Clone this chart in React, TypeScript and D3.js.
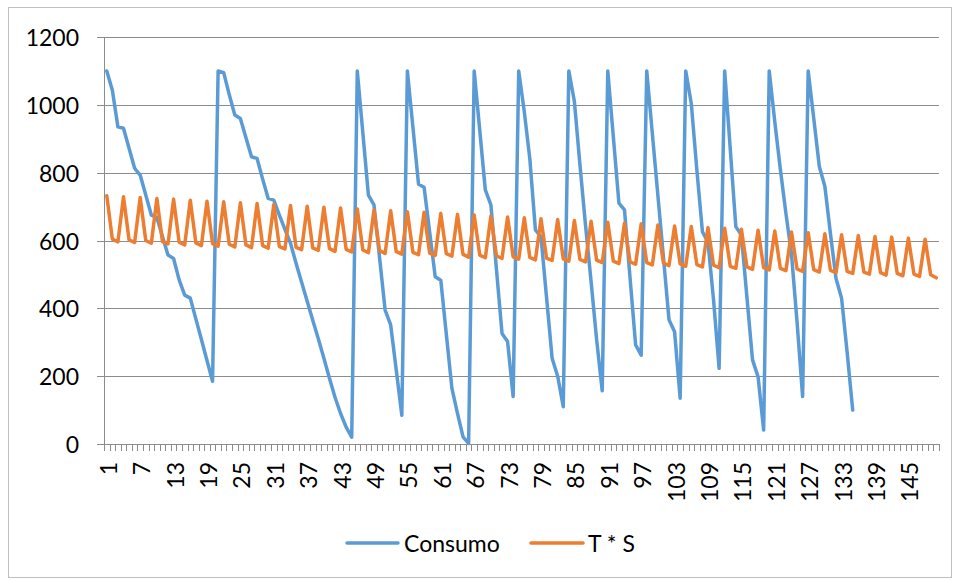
import React from "react";
import * as d3 from "d3";

const categories: number[] = d3.range(1, 151);

const consumo: number[] = [
  1100, 1043, 935, 931, 872, 813, 793, 734, 675, 668, 612, 557, 547, 484, 439, 430, 369, 308, 246, 185,
  1100, 1095, 1030, 970, 960, 903, 847, 842, 781, 724, 719, 675, 633, 592, 533, 477, 421, 365, 310, 253, 194, 138, 90, 50, 20,
  1100, 917, 734, 705, 550, 395, 351, 218, 85,
  1100, 933, 766, 757, 625, 493, 483, 323, 164, 90, 21, 2,
  1100, 925, 749, 705, 515, 326, 302, 140,
  1100, 980, 840, 631, 611, 432, 253, 200, 110,
  1100, 1010, 823, 645, 479, 307, 157,
  1100, 905, 710, 690, 490, 292, 262,
  1100, 916, 733, 550, 366, 331, 135,
  1100, 1004, 808, 626, 595, 425, 223,
  1100, 870, 641, 616, 432, 248, 198, 41,
  1100, 950, 810, 680, 560, 360, 140,
  1100, 960, 818, 759, 620, 488, 430, 270, 100,
];

const tS: number[] = [
  732, 604, 596, 729, 602, 594, 727, 600, 592, 724, 597, 590, 722, 595, 587,
  719, 593, 585, 716, 591, 583, 714, 589, 581, 711, 587, 579, 709, 585, 577,
  706, 582, 575, 703, 580, 573, 701, 578, 571, 698, 576, 568, 696, 574, 566,
  693, 572, 564, 690, 570, 562, 688, 567, 560, 685, 565, 558, 683, 563, 556,
  680, 561, 554, 677, 559, 551, 675, 557, 549, 672, 555, 547, 669, 552, 545,
  667, 550, 543, 664, 548, 541, 662, 546, 539, 659, 544, 537, 657, 542, 535,
  654, 539, 532, 651, 537, 530, 649, 535, 528, 646, 533, 526, 643, 531, 524,
  641, 529, 522, 638, 527, 520, 636, 524, 518, 633, 522, 515, 630, 520, 513,
  628, 518, 511, 625, 516, 509, 623, 514, 507, 620, 512, 505, 617, 509, 503,
  615, 507, 501, 612, 505, 498, 610, 503, 496, 607, 501, 494, 604, 499, 490,
];

const yTicks: number[] = [0, 200, 400, 600, 800, 1000, 1200];
const xTickLabels: number[] = categories.filter((c) => (c - 1) % 6 === 0);
const seriesNames: string[] = ["Consumo", "T * S"];
const seriesColors: string[] = ["#5B9BD5", "#ED7D31"];

const W = 959;
const H = 581;
const L = 104;
const R = 939;
const T = 37;
const B = 444;
const FONT = "Lato, 'Liberation Sans', Arial, sans-serif";
const FS = 23;

export default function App() {
  const x = d3.scaleBand<number>().domain(categories).range([L, R]).paddingInner(0).paddingOuter(0);
  const y = d3.scaleLinear().domain([0, 1200]).range([B, T]);
  const cx = (c: number) => (x(c) as number) + x.bandwidth() / 2;

  const line = d3
    .line<number>()
    .x((_, i) => cx(categories[i]))
    .y((d) => y(d));

  const series = [consumo, tS];
  const boundaries = d3.range(0, categories.length + 1).map((i) => L + i * x.bandwidth());

  const legendItems = [
    { x1: 347, x2: 398, tx: 404 },
    { x1: 531, x2: 583, tx: 588 },
  ];

  return (
    <svg
      width={W}
      height={H}
      style={{ position: "absolute", left: 0, top: 0, background: "#fff" }}
      fontFamily={FONT}
    >
      <rect x={8.5} y={7.5} width={943} height={570} fill="#fff" stroke="#bfbfbf" strokeWidth={1} />
      {yTicks.map((t) => (
        <g key={t}>
          <line x1={97} x2={R} y1={Math.round(y(t)) + 0.5} y2={Math.round(y(t)) + 0.5} stroke="#8c8c8c" strokeWidth={1} />
          <text x={79} y={y(t)} textAnchor="end" dominantBaseline="central" fontSize={FS} fill="#000">
            {t}
          </text>
        </g>
      ))}
      <line x1={L + 0.5} x2={L + 0.5} y1={T} y2={B} stroke="#8c8c8c" strokeWidth={1} />
      {boundaries.map((bx, i) => (
        <line key={i} x1={Math.round(bx) + 0.5} x2={Math.round(bx) + 0.5} y1={B} y2={B + 7} stroke="#8c8c8c" strokeWidth={1} />
      ))}
      {xTickLabels.map((c) => (
        <text
          key={c}
          transform={`translate(${cx(c) + 1},${462}) rotate(-90)`}
          textAnchor="end"
          dominantBaseline="central"
          fontSize={FS}
          fill="#000"
        >
          {c}
        </text>
      ))}
      {series.map((s, i) => (
        <path
          key={i}
          d={line(s) as string}
          fill="none"
          stroke={seriesColors[i]}
          strokeWidth={3.5}
          strokeLinejoin="round"
          strokeLinecap="round"
        />
      ))}
      {seriesNames.map((n, i) => (
        <g key={n}>
          <line x1={legendItems[i].x1} x2={legendItems[i].x2} y1={543} y2={543} stroke={seriesColors[i]} strokeWidth={3.5} strokeLinecap="round" />
          <text x={legendItems[i].tx} y={543} dominantBaseline="central" fontSize={FS} fill="#000">
            {n}
          </text>
        </g>
      ))}
    </svg>
  );
}
